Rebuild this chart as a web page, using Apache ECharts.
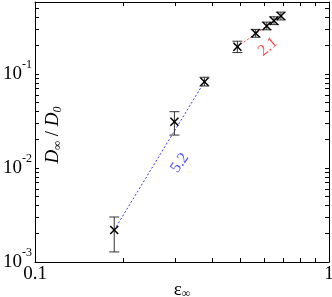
<!DOCTYPE html>
<html><head><meta charset="utf-8">
<script src="https://cdn.jsdelivr.net/npm/echarts@6/dist/echarts.min.js"></script>
<style>html,body{margin:0;padding:0;background:#fff}#c{width:332px;height:297px}</style>
</head><body><div id="c"></div>
<script>
// ---- data ----
const epsInf  = [0.186, 0.298, 0.377, 0.488, 0.563, 0.614, 0.650, 0.686];
const ratio   = [0.00219, 0.0311, 0.0828, 0.195, 0.271, 0.324, 0.369, 0.414];
const errLow  = [0.00128, 0.0224, 0.0745, 0.169, 0.246, 0.295, 0.335, 0.376];
const errHigh = [0.00301, 0.0397, 0.0923, 0.223, 0.298, 0.356, 0.406, 0.455];
const fitBlueX = [0.186, 0.377];
const fitBlueY = [0.00219, 0.0828];
const fitRedX  = [0.488, 0.686];
const fitRedY  = [0.195, 0.414];
const slopeBlue = {x: 0.311, y: 0.0113, text: '5.2'};
const slopeRed  = {x: 0.620, y: 0.194, text: '2.1'};
const xTickVals  = [0.2, 0.3, 0.4, 0.5, 0.6, 0.7, 0.8, 0.9];
const xLabelVals = [0.1, 1];
const yTickVals  = [0.002, 0.003, 0.004, 0.005, 0.006, 0.007, 0.008, 0.009, 0.01,
                    0.02, 0.03, 0.04, 0.05, 0.06, 0.07, 0.08, 0.09, 0.1,
                    0.2, 0.3, 0.4, 0.5];
const yLabelVals = [0.001, 0.01, 0.1];
const xMin = 0.1, xMax = 1, yMin = 0.001, yMax = 0.583;

const serif = 'Liberation Serif';
const chart = echarts.init(document.getElementById('c'), null, {renderer: 'canvas'});

function pairs(xs, ys) { return xs.map((x, i) => [x, ys[i]]); }
const errData = epsInf.map((x, i) => [x, errLow[i], errHigh[i]]);
const ptData = pairs(epsInf, ratio);

const lineStyleAxis = {color: '#000', width: 1};
function xAx(pos, labels) {
  return {
    type: 'log', logBase: 10, min: xMin, max: xMax, position: pos,
    splitLine: {show: false},
    axisLine: {show: true, onZero: false, lineStyle: lineStyleAxis},
    axisTick: {show: true, inside: true, length: 4, customValues: xTickVals, lineStyle: {color: '#000', width: 1}},
    minorTick: {show: false},
    axisLabel: labels ? {
      show: true, customValues: xLabelVals, margin: 3,
      fontFamily: serif, fontSize: 19, color: '#000',
      formatter: v => String(Math.round(v * 10) / 10)
    } : {show: false}
  };
}
function yAx(pos, labels) {
  return {
    type: 'log', logBase: 10, min: yMin, max: yMax, position: pos,
    splitLine: {show: false},
    axisLine: {show: true, onZero: false, lineStyle: lineStyleAxis},
    axisTick: {show: true, inside: true, length: 4, customValues: yTickVals, lineStyle: {color: '#000', width: 1}},
    minorTick: {show: false},
    axisLabel: labels ? {
      show: true, customValues: yLabelVals, margin: 3,
      formatter: v => '{b|10}{s|' + Math.round(Math.log10(v)) + '}',
      rich: {
        b: {fontFamily: serif, fontSize: 19, color: '#000', lineHeight: 30},
        s: {fontFamily: serif, fontSize: 12, color: '#000', lineHeight: 12, verticalAlign: 'top'}
      }
    } : {show: false}
  };
}

const xA0 = xAx('bottom', true);
xA0.name = '{e|ε}{sub|∞}';
xA0.nameLocation = 'middle';
xA0.nameGap = 18;
xA0.nameMoveOverlap = false;
xA0.nameTextStyle = {
  rich: {
    e: {fontFamily: serif, fontSize: 19, color: '#000', lineHeight: 20},
    sub: {fontFamily: serif, fontSize: 12, color: '#000', lineHeight: 12, verticalAlign: 'bottom'}
  }
};

const option = {
  animation: false,
  backgroundColor: '#fff',
  grid: {left: 35, right: 3, top: 2, bottom: 35, outerBoundsMode: 'none', containLabel: false},
  xAxis: [xA0, xAx('top', false)],
  yAxis: [yAx('left', true), yAx('right', false)],
  graphic: [{
    type: 'text', x: 53, y: 135, rotation: Math.PI / 2, z: 10,
    style: {
      text: '{i|D}{sub|∞}{n| / }{i|D}{sub|0}',
      align: 'center', verticalAlign: 'middle',
      rich: {
        i: {fontFamily: serif, fontSize: 19, fontStyle: 'italic', fill: '#000', lineHeight: 22},
        n: {fontFamily: serif, fontSize: 19, fill: '#000', lineHeight: 22},
        sub: {fontFamily: serif, fontSize: 12, fontStyle: 'italic', fill: '#000', lineHeight: 12, verticalAlign: 'bottom'}
      }
    }
  }],
  series: [
    {
      type: 'line', data: pairs(fitBlueX, fitBlueY), symbol: 'none', silent: true,
      lineStyle: {color: '#3a3aff', width: 1, type: [2, 2]}, z: 2
    },
    {
      type: 'line', data: pairs(fitRedX, fitRedY), symbol: 'none', silent: true,
      lineStyle: {color: '#ff2a2a', width: 1, type: [2, 2]}, z: 2
    },
    {
      type: 'custom', data: errData, z: 3,
      renderItem: function (params, api) {
        const x = api.value(0);
        const lo = api.coord([x, api.value(1)]);
        const hi = api.coord([x, api.value(2)]);
        const cw = 5;
        const st = {stroke: '#333', lineWidth: 1, fill: null};
        return {type: 'group', children: [
          {type: 'line', shape: {x1: lo[0], y1: lo[1], x2: hi[0], y2: hi[1]}, style: st},
          {type: 'line', shape: {x1: lo[0] - cw, y1: lo[1], x2: lo[0] + cw, y2: lo[1]}, style: st},
          {type: 'line', shape: {x1: hi[0] - cw, y1: hi[1], x2: hi[0] + cw, y2: hi[1]}, style: st}
        ]};
      }
    },
    {
      type: 'custom', data: ptData, z: 4,
      renderItem: function (params, api) {
        const p = api.coord([api.value(0), api.value(1)]);
        const s = 4;
        const st = {stroke: '#000', lineWidth: 1.5, fill: null};
        return {type: 'group', children: [
          {type: 'line', shape: {x1: p[0] - s, y1: p[1] - s, x2: p[0] + s, y2: p[1] + s}, style: st},
          {type: 'line', shape: {x1: p[0] - s, y1: p[1] + s, x2: p[0] + s, y2: p[1] - s}, style: st}
        ]};
      }
    },
    {
      type: 'scatter', symbolSize: 0, silent: true, z: 5,
      data: [[slopeBlue.x, slopeBlue.y]],
      label: {show: true, formatter: slopeBlue.text, position: 'inside', rotate: 55,
              fontFamily: serif, fontSize: 16, color: '#2222ff'}
    },
    {
      type: 'scatter', symbolSize: 0, silent: true, z: 5,
      data: [[slopeRed.x, slopeRed.y]],
      label: {show: true, formatter: slopeRed.text, position: 'inside', rotate: 40,
              fontFamily: serif, fontSize: 16, color: '#ff1a1a'}
    }
  ]
};
chart.setOption(option);
</script>
</body></html>
